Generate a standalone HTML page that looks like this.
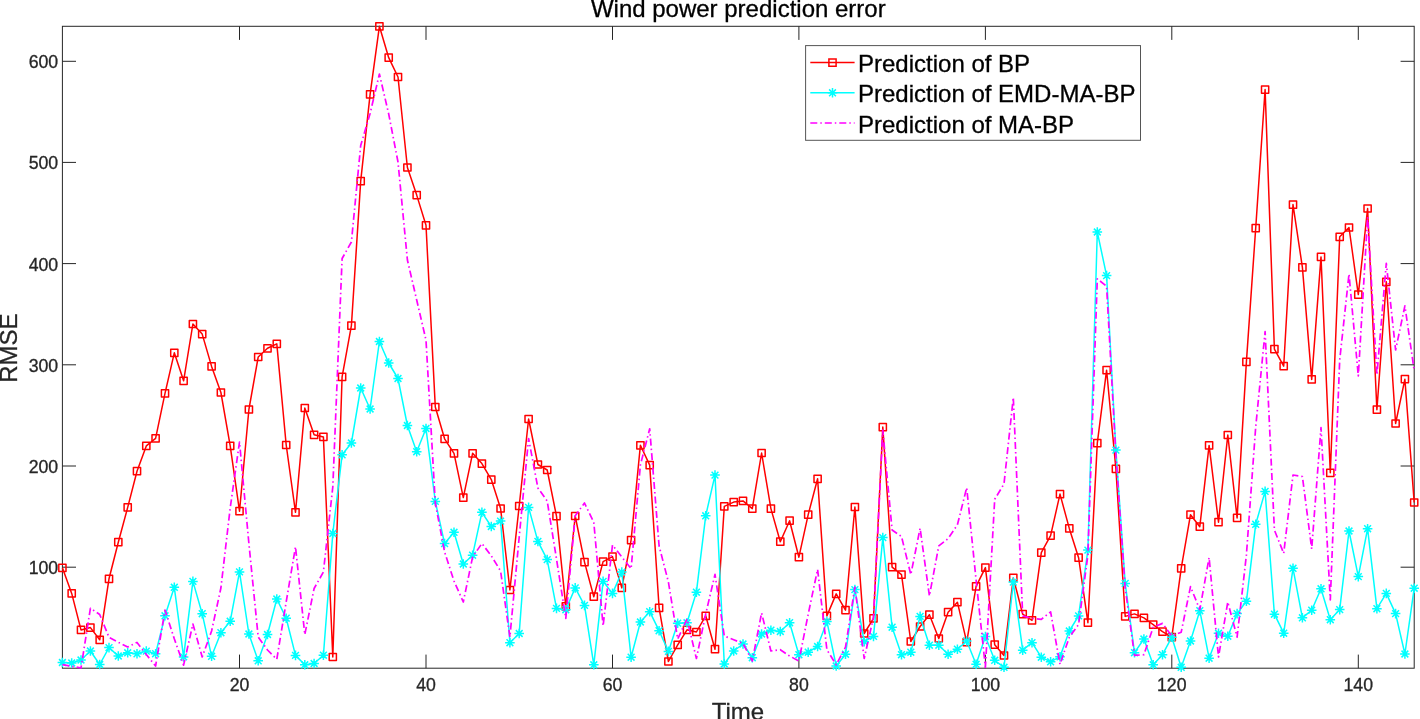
<!DOCTYPE html>
<html><head><meta charset="utf-8"><title>Wind power prediction error</title>
<style>
html,body{margin:0;padding:0;background:#fff;}
body{width:1420px;height:719px;overflow:hidden;}
svg{display:block;font-family:"Liberation Sans",Arial,Helvetica,sans-serif;}
</style></head><body>
<svg width="1420" height="719" viewBox="0 0 1420 719">
<rect width="1420" height="719" fill="#fff"/>
<rect x="62.4" y="26.3" width="1351.8" height="641.9" fill="none" stroke="#262626" stroke-width="1"/>
<path d="M239.5 668.2v-13.6M239.5 26.3v13.6M426.0 668.2v-13.6M426.0 26.3v13.6M612.5 668.2v-13.6M612.5 26.3v13.6M798.9 668.2v-13.6M798.9 26.3v13.6M985.4 668.2v-13.6M985.4 26.3v13.6M1171.8 668.2v-13.6M1171.8 26.3v13.6M1358.3 668.2v-13.6M1358.3 26.3v13.6M62.4 567.2h13.6M1414.2 567.2h-13.6M62.4 466.0h13.6M1414.2 466.0h-13.6M62.4 364.8h13.6M1414.2 364.8h-13.6M62.4 263.6h13.6M1414.2 263.6h-13.6M62.4 162.4h13.6M1414.2 162.4h-13.6M62.4 61.3h13.6M1414.2 61.3h-13.6" stroke="#262626" stroke-width="1" fill="none"/>
<g fill="none" stroke-linejoin="round">
<polyline points="62.4,567.8 71.7,593.4 81.0,629.9 90.4,627.6 99.7,639.8 109.0,578.8 118.3,542.2 127.7,507.4 137.0,471.2 146.3,445.9 155.6,438.3 165.0,393.3 174.3,352.8 183.6,380.8 192.9,324.0 202.2,334.1 211.6,366.4 220.9,392.5 230.2,445.8 239.5,511.2 248.9,409.5 258.2,357.0 267.5,348.3 276.8,343.9 286.2,445.0 295.5,512.3 304.8,408.0 314.1,434.8 323.4,436.9 332.8,657.0 342.1,376.8 351.4,325.7 360.7,181.2 370.1,94.4 379.4,26.3 388.7,57.7 398.0,77.0 407.4,167.5 416.7,195.1 426.0,225.3 435.3,407.0 444.6,438.8 454.0,453.3 463.3,497.6 472.6,453.3 481.9,463.6 491.3,479.6 500.6,508.5 509.9,590.0 519.2,506.0 528.6,419.0 537.9,464.5 547.2,470.0 556.5,516.2 565.8,606.4 575.2,516.0 584.5,562.1 593.8,596.7 603.1,561.6 612.5,556.6 621.8,587.9 631.1,540.1 640.4,445.3 649.7,465.1 659.1,607.8 668.4,661.5 677.7,644.8 687.0,629.8 696.4,632.0 705.7,615.8 715.0,649.2 724.3,506.4 733.7,502.1 743.0,500.9 752.3,508.6 761.6,453.0 770.9,508.6 780.3,541.7 789.6,520.7 798.9,557.2 808.2,514.6 817.6,478.8 826.9,615.9 836.2,593.9 845.5,610.2 854.9,507.0 864.2,633.5 873.5,618.4 882.8,427.1 892.1,567.1 901.5,574.6 910.8,641.5 920.1,626.5 929.4,614.7 938.8,638.5 948.1,612.2 957.4,602.2 966.7,642.2 976.1,586.4 985.4,567.6 994.7,644.7 1004.0,655.5 1013.3,577.9 1022.7,614.2 1032.0,620.4 1041.3,552.6 1050.6,535.6 1060.0,494.1 1069.3,528.4 1078.6,557.7 1087.9,622.7 1097.3,443.1 1106.6,370.2 1115.9,468.9 1125.2,616.4 1134.5,613.9 1143.9,617.9 1153.2,624.7 1162.5,631.7 1171.8,637.2 1181.2,568.4 1190.5,514.7 1199.8,526.7 1209.1,445.4 1218.5,522.2 1227.8,435.0 1237.1,517.9 1246.4,361.9 1255.7,228.2 1265.1,89.6 1274.4,349.2 1283.7,366.2 1293.0,204.6 1302.4,267.4 1311.7,379.4 1321.0,256.9 1330.3,472.8 1339.7,236.8 1349.0,227.5 1358.3,294.6 1367.6,208.5 1376.9,409.7 1386.3,281.8 1395.6,423.5 1404.9,379.2 1414.2,502.5" stroke="#f00" stroke-width="1.5"/>
<path d="M58.8 564.2h7.2v7.2h-7.2zM68.1 589.8h7.2v7.2h-7.2zM77.4 626.3h7.2v7.2h-7.2zM86.8 624.0h7.2v7.2h-7.2zM96.1 636.2h7.2v7.2h-7.2zM105.4 575.2h7.2v7.2h-7.2zM114.7 538.6h7.2v7.2h-7.2zM124.1 503.8h7.2v7.2h-7.2zM133.4 467.6h7.2v7.2h-7.2zM142.7 442.3h7.2v7.2h-7.2zM152.0 434.7h7.2v7.2h-7.2zM161.4 389.7h7.2v7.2h-7.2zM170.7 349.2h7.2v7.2h-7.2zM180.0 377.2h7.2v7.2h-7.2zM189.3 320.4h7.2v7.2h-7.2zM198.6 330.5h7.2v7.2h-7.2zM208.0 362.8h7.2v7.2h-7.2zM217.3 388.9h7.2v7.2h-7.2zM226.6 442.2h7.2v7.2h-7.2zM235.9 507.6h7.2v7.2h-7.2zM245.3 405.9h7.2v7.2h-7.2zM254.6 353.4h7.2v7.2h-7.2zM263.9 344.7h7.2v7.2h-7.2zM273.2 340.3h7.2v7.2h-7.2zM282.6 441.4h7.2v7.2h-7.2zM291.9 508.7h7.2v7.2h-7.2zM301.2 404.4h7.2v7.2h-7.2zM310.5 431.2h7.2v7.2h-7.2zM319.8 433.3h7.2v7.2h-7.2zM329.2 653.4h7.2v7.2h-7.2zM338.5 373.2h7.2v7.2h-7.2zM347.8 322.1h7.2v7.2h-7.2zM357.1 177.6h7.2v7.2h-7.2zM366.5 90.8h7.2v7.2h-7.2zM375.8 22.7h7.2v7.2h-7.2zM385.1 54.1h7.2v7.2h-7.2zM394.4 73.4h7.2v7.2h-7.2zM403.8 163.9h7.2v7.2h-7.2zM413.1 191.5h7.2v7.2h-7.2zM422.4 221.7h7.2v7.2h-7.2zM431.7 403.4h7.2v7.2h-7.2zM441.0 435.2h7.2v7.2h-7.2zM450.4 449.7h7.2v7.2h-7.2zM459.7 494.0h7.2v7.2h-7.2zM469.0 449.7h7.2v7.2h-7.2zM478.3 460.0h7.2v7.2h-7.2zM487.7 476.0h7.2v7.2h-7.2zM497.0 504.9h7.2v7.2h-7.2zM506.3 586.4h7.2v7.2h-7.2zM515.6 502.4h7.2v7.2h-7.2zM525.0 415.4h7.2v7.2h-7.2zM534.3 460.9h7.2v7.2h-7.2zM543.6 466.4h7.2v7.2h-7.2zM552.9 512.6h7.2v7.2h-7.2zM562.2 602.8h7.2v7.2h-7.2zM571.6 512.4h7.2v7.2h-7.2zM580.9 558.5h7.2v7.2h-7.2zM590.2 593.1h7.2v7.2h-7.2zM599.5 558.0h7.2v7.2h-7.2zM608.9 553.0h7.2v7.2h-7.2zM618.2 584.3h7.2v7.2h-7.2zM627.5 536.5h7.2v7.2h-7.2zM636.8 441.7h7.2v7.2h-7.2zM646.1 461.5h7.2v7.2h-7.2zM655.5 604.2h7.2v7.2h-7.2zM664.8 657.9h7.2v7.2h-7.2zM674.1 641.2h7.2v7.2h-7.2zM683.4 626.2h7.2v7.2h-7.2zM692.8 628.4h7.2v7.2h-7.2zM702.1 612.2h7.2v7.2h-7.2zM711.4 645.6h7.2v7.2h-7.2zM720.7 502.8h7.2v7.2h-7.2zM730.1 498.5h7.2v7.2h-7.2zM739.4 497.3h7.2v7.2h-7.2zM748.7 505.0h7.2v7.2h-7.2zM758.0 449.4h7.2v7.2h-7.2zM767.3 505.0h7.2v7.2h-7.2zM776.7 538.1h7.2v7.2h-7.2zM786.0 517.1h7.2v7.2h-7.2zM795.3 553.6h7.2v7.2h-7.2zM804.6 511.0h7.2v7.2h-7.2zM814.0 475.2h7.2v7.2h-7.2zM823.3 612.3h7.2v7.2h-7.2zM832.6 590.3h7.2v7.2h-7.2zM841.9 606.6h7.2v7.2h-7.2zM851.3 503.4h7.2v7.2h-7.2zM860.6 629.9h7.2v7.2h-7.2zM869.9 614.8h7.2v7.2h-7.2zM879.2 423.5h7.2v7.2h-7.2zM888.5 563.5h7.2v7.2h-7.2zM897.9 571.0h7.2v7.2h-7.2zM907.2 637.9h7.2v7.2h-7.2zM916.5 622.9h7.2v7.2h-7.2zM925.8 611.1h7.2v7.2h-7.2zM935.2 634.9h7.2v7.2h-7.2zM944.5 608.6h7.2v7.2h-7.2zM953.8 598.6h7.2v7.2h-7.2zM963.1 638.6h7.2v7.2h-7.2zM972.5 582.8h7.2v7.2h-7.2zM981.8 564.0h7.2v7.2h-7.2zM991.1 641.1h7.2v7.2h-7.2zM1000.4 651.9h7.2v7.2h-7.2zM1009.7 574.3h7.2v7.2h-7.2zM1019.1 610.6h7.2v7.2h-7.2zM1028.4 616.8h7.2v7.2h-7.2zM1037.7 549.0h7.2v7.2h-7.2zM1047.0 532.0h7.2v7.2h-7.2zM1056.4 490.5h7.2v7.2h-7.2zM1065.7 524.8h7.2v7.2h-7.2zM1075.0 554.1h7.2v7.2h-7.2zM1084.3 619.1h7.2v7.2h-7.2zM1093.7 439.5h7.2v7.2h-7.2zM1103.0 366.6h7.2v7.2h-7.2zM1112.3 465.3h7.2v7.2h-7.2zM1121.6 612.8h7.2v7.2h-7.2zM1130.9 610.3h7.2v7.2h-7.2zM1140.3 614.3h7.2v7.2h-7.2zM1149.6 621.1h7.2v7.2h-7.2zM1158.9 628.1h7.2v7.2h-7.2zM1168.2 633.6h7.2v7.2h-7.2zM1177.6 564.8h7.2v7.2h-7.2zM1186.9 511.1h7.2v7.2h-7.2zM1196.2 523.1h7.2v7.2h-7.2zM1205.5 441.8h7.2v7.2h-7.2zM1214.9 518.6h7.2v7.2h-7.2zM1224.2 431.4h7.2v7.2h-7.2zM1233.5 514.3h7.2v7.2h-7.2zM1242.8 358.3h7.2v7.2h-7.2zM1252.1 224.6h7.2v7.2h-7.2zM1261.5 86.0h7.2v7.2h-7.2zM1270.8 345.6h7.2v7.2h-7.2zM1280.1 362.6h7.2v7.2h-7.2zM1289.4 201.0h7.2v7.2h-7.2zM1298.8 263.8h7.2v7.2h-7.2zM1308.1 375.8h7.2v7.2h-7.2zM1317.4 253.3h7.2v7.2h-7.2zM1326.7 469.2h7.2v7.2h-7.2zM1336.1 233.2h7.2v7.2h-7.2zM1345.4 223.9h7.2v7.2h-7.2zM1354.7 291.0h7.2v7.2h-7.2zM1364.0 204.9h7.2v7.2h-7.2zM1373.3 406.1h7.2v7.2h-7.2zM1382.7 278.2h7.2v7.2h-7.2zM1392.0 419.9h7.2v7.2h-7.2zM1401.3 375.6h7.2v7.2h-7.2zM1410.6 498.9h7.2v7.2h-7.2z" stroke="#f00" stroke-width="1.5"/>
<polyline points="62.4,662.5 71.7,663.0 81.0,660.0 90.4,651.0 99.7,664.5 109.0,647.6 118.3,656.0 127.7,652.8 137.0,653.8 146.3,651.1 155.6,653.7 165.0,615.8 174.3,587.3 183.6,656.9 192.9,581.4 202.2,613.7 211.6,656.3 220.9,632.7 230.2,621.3 239.5,571.9 248.9,634.0 258.2,660.8 267.5,634.5 276.8,599.0 286.2,618.2 295.5,655.4 304.8,664.8 314.1,663.5 323.4,655.2 332.8,533.5 342.1,454.8 351.4,443.0 360.7,388.0 370.1,409.0 379.4,341.5 388.7,363.0 398.0,378.5 407.4,425.5 416.7,451.7 426.0,428.5 435.3,501.4 444.6,543.6 454.0,532.3 463.3,564.0 472.6,555.2 481.9,512.3 491.3,526.5 500.6,521.1 509.9,642.7 519.2,633.5 528.6,507.4 537.9,541.4 547.2,559.6 556.5,608.4 565.8,609.7 575.2,587.9 584.5,605.4 593.8,664.8 603.1,581.4 612.5,593.4 621.8,572.1 631.1,657.2 640.4,622.0 649.7,611.7 659.1,630.7 668.4,651.4 677.7,623.2 687.0,622.8 696.4,592.2 705.7,515.8 715.0,475.1 724.3,664.0 733.7,651.0 743.0,644.0 752.3,657.7 761.6,634.0 770.9,630.2 780.3,631.5 789.6,622.7 798.9,654.7 808.2,652.2 817.6,646.5 826.9,621.4 836.2,666.0 845.5,654.2 854.9,589.6 864.2,641.7 873.5,636.4 882.8,537.6 892.1,627.2 901.5,654.7 910.8,652.2 920.1,616.4 929.4,645.2 938.8,645.2 948.1,654.2 957.4,649.2 966.7,641.0 976.1,664.3 985.4,636.5 994.7,660.3 1004.0,667.3 1013.3,582.1 1022.7,650.2 1032.0,642.7 1041.3,657.2 1050.6,661.8 1060.0,656.7 1069.3,631.0 1078.6,615.9 1087.9,550.1 1097.3,232.0 1106.6,275.6 1115.9,450.1 1125.2,583.4 1134.5,652.7 1143.9,639.0 1153.2,664.8 1162.5,654.7 1171.8,637.2 1181.2,667.3 1190.5,641.0 1199.8,610.7 1209.1,658.2 1218.5,633.3 1227.8,636.2 1237.1,613.6 1246.4,601.3 1255.7,524.3 1265.1,491.4 1274.4,614.2 1283.7,633.2 1293.0,568.3 1302.4,617.8 1311.7,610.2 1321.0,588.8 1330.3,619.7 1339.7,609.6 1349.0,531.0 1358.3,576.6 1367.6,528.7 1376.9,608.7 1386.3,593.4 1395.6,613.6 1404.9,654.0 1414.2,588.2" stroke="#0ff" stroke-width="1.5"/>
<path d="M57.6 662.5h9.6M62.4 657.7v9.6M59.0 659.1l6.8 6.8M59.0 665.9l6.8 -6.8M66.9 663.0h9.6M71.7 658.2v9.6M68.3 659.6l6.8 6.8M68.3 666.4l6.8 -6.8M76.2 660.0h9.6M81.0 655.2v9.6M77.6 656.6l6.8 6.8M77.6 663.4l6.8 -6.8M85.6 651.0h9.6M90.4 646.2v9.6M87.0 647.6l6.8 6.8M87.0 654.4l6.8 -6.8M94.9 664.5h9.6M99.7 659.7v9.6M96.3 661.1l6.8 6.8M96.3 667.9l6.8 -6.8M104.2 647.6h9.6M109.0 642.8v9.6M105.6 644.2l6.8 6.8M105.6 651.0l6.8 -6.8M113.5 656.0h9.6M118.3 651.2v9.6M114.9 652.6l6.8 6.8M114.9 659.4l6.8 -6.8M122.9 652.8h9.6M127.7 648.0v9.6M124.3 649.4l6.8 6.8M124.3 656.2l6.8 -6.8M132.2 653.8h9.6M137.0 649.0v9.6M133.6 650.4l6.8 6.8M133.6 657.2l6.8 -6.8M141.5 651.1h9.6M146.3 646.3v9.6M142.9 647.7l6.8 6.8M142.9 654.5l6.8 -6.8M150.8 653.7h9.6M155.6 648.9v9.6M152.2 650.3l6.8 6.8M152.2 657.1l6.8 -6.8M160.2 615.8h9.6M165.0 611.0v9.6M161.6 612.4l6.8 6.8M161.6 619.2l6.8 -6.8M169.5 587.3h9.6M174.3 582.5v9.6M170.9 583.9l6.8 6.8M170.9 590.7l6.8 -6.8M178.8 656.9h9.6M183.6 652.1v9.6M180.2 653.5l6.8 6.8M180.2 660.3l6.8 -6.8M188.1 581.4h9.6M192.9 576.6v9.6M189.5 578.0l6.8 6.8M189.5 584.8l6.8 -6.8M197.4 613.7h9.6M202.2 608.9v9.6M198.8 610.3l6.8 6.8M198.8 617.1l6.8 -6.8M206.8 656.3h9.6M211.6 651.5v9.6M208.2 652.9l6.8 6.8M208.2 659.7l6.8 -6.8M216.1 632.7h9.6M220.9 627.9v9.6M217.5 629.3l6.8 6.8M217.5 636.1l6.8 -6.8M225.4 621.3h9.6M230.2 616.5v9.6M226.8 617.9l6.8 6.8M226.8 624.7l6.8 -6.8M234.7 571.9h9.6M239.5 567.1v9.6M236.1 568.5l6.8 6.8M236.1 575.3l6.8 -6.8M244.1 634.0h9.6M248.9 629.2v9.6M245.5 630.6l6.8 6.8M245.5 637.4l6.8 -6.8M253.4 660.8h9.6M258.2 656.0v9.6M254.8 657.4l6.8 6.8M254.8 664.2l6.8 -6.8M262.7 634.5h9.6M267.5 629.7v9.6M264.1 631.1l6.8 6.8M264.1 637.9l6.8 -6.8M272.0 599.0h9.6M276.8 594.2v9.6M273.4 595.6l6.8 6.8M273.4 602.4l6.8 -6.8M281.4 618.2h9.6M286.2 613.4v9.6M282.8 614.8l6.8 6.8M282.8 621.6l6.8 -6.8M290.7 655.4h9.6M295.5 650.6v9.6M292.1 652.0l6.8 6.8M292.1 658.8l6.8 -6.8M300.0 664.8h9.6M304.8 660.0v9.6M301.4 661.4l6.8 6.8M301.4 668.2l6.8 -6.8M309.3 663.5h9.6M314.1 658.7v9.6M310.7 660.1l6.8 6.8M310.7 666.9l6.8 -6.8M318.6 655.2h9.6M323.4 650.4v9.6M320.0 651.8l6.8 6.8M320.0 658.6l6.8 -6.8M328.0 533.5h9.6M332.8 528.7v9.6M329.4 530.1l6.8 6.8M329.4 536.9l6.8 -6.8M337.3 454.8h9.6M342.1 450.0v9.6M338.7 451.4l6.8 6.8M338.7 458.2l6.8 -6.8M346.6 443.0h9.6M351.4 438.2v9.6M348.0 439.6l6.8 6.8M348.0 446.4l6.8 -6.8M355.9 388.0h9.6M360.7 383.2v9.6M357.3 384.6l6.8 6.8M357.3 391.4l6.8 -6.8M365.3 409.0h9.6M370.1 404.2v9.6M366.7 405.6l6.8 6.8M366.7 412.4l6.8 -6.8M374.6 341.5h9.6M379.4 336.7v9.6M376.0 338.1l6.8 6.8M376.0 344.9l6.8 -6.8M383.9 363.0h9.6M388.7 358.2v9.6M385.3 359.6l6.8 6.8M385.3 366.4l6.8 -6.8M393.2 378.5h9.6M398.0 373.7v9.6M394.6 375.1l6.8 6.8M394.6 381.9l6.8 -6.8M402.6 425.5h9.6M407.4 420.7v9.6M404.0 422.1l6.8 6.8M404.0 428.9l6.8 -6.8M411.9 451.7h9.6M416.7 446.9v9.6M413.3 448.3l6.8 6.8M413.3 455.1l6.8 -6.8M421.2 428.5h9.6M426.0 423.7v9.6M422.6 425.1l6.8 6.8M422.6 431.9l6.8 -6.8M430.5 501.4h9.6M435.3 496.6v9.6M431.9 498.0l6.8 6.8M431.9 504.8l6.8 -6.8M439.8 543.6h9.6M444.6 538.8v9.6M441.2 540.2l6.8 6.8M441.2 547.0l6.8 -6.8M449.2 532.3h9.6M454.0 527.5v9.6M450.6 528.9l6.8 6.8M450.6 535.7l6.8 -6.8M458.5 564.0h9.6M463.3 559.2v9.6M459.9 560.6l6.8 6.8M459.9 567.4l6.8 -6.8M467.8 555.2h9.6M472.6 550.4v9.6M469.2 551.8l6.8 6.8M469.2 558.6l6.8 -6.8M477.1 512.3h9.6M481.9 507.5v9.6M478.5 508.9l6.8 6.8M478.5 515.7l6.8 -6.8M486.5 526.5h9.6M491.3 521.7v9.6M487.9 523.1l6.8 6.8M487.9 529.9l6.8 -6.8M495.8 521.1h9.6M500.6 516.3v9.6M497.2 517.7l6.8 6.8M497.2 524.5l6.8 -6.8M505.1 642.7h9.6M509.9 637.9v9.6M506.5 639.3l6.8 6.8M506.5 646.1l6.8 -6.8M514.4 633.5h9.6M519.2 628.7v9.6M515.8 630.1l6.8 6.8M515.8 636.9l6.8 -6.8M523.8 507.4h9.6M528.6 502.6v9.6M525.2 504.0l6.8 6.8M525.2 510.8l6.8 -6.8M533.1 541.4h9.6M537.9 536.6v9.6M534.5 538.0l6.8 6.8M534.5 544.8l6.8 -6.8M542.4 559.6h9.6M547.2 554.8v9.6M543.8 556.2l6.8 6.8M543.8 563.0l6.8 -6.8M551.7 608.4h9.6M556.5 603.6v9.6M553.1 605.0l6.8 6.8M553.1 611.8l6.8 -6.8M561.0 609.7h9.6M565.8 604.9v9.6M562.4 606.3l6.8 6.8M562.4 613.1l6.8 -6.8M570.4 587.9h9.6M575.2 583.1v9.6M571.8 584.5l6.8 6.8M571.8 591.3l6.8 -6.8M579.7 605.4h9.6M584.5 600.6v9.6M581.1 602.0l6.8 6.8M581.1 608.8l6.8 -6.8M589.0 664.8h9.6M593.8 660.0v9.6M590.4 661.4l6.8 6.8M590.4 668.2l6.8 -6.8M598.3 581.4h9.6M603.1 576.6v9.6M599.7 578.0l6.8 6.8M599.7 584.8l6.8 -6.8M607.7 593.4h9.6M612.5 588.6v9.6M609.1 590.0l6.8 6.8M609.1 596.8l6.8 -6.8M617.0 572.1h9.6M621.8 567.3v9.6M618.4 568.7l6.8 6.8M618.4 575.5l6.8 -6.8M626.3 657.2h9.6M631.1 652.4v9.6M627.7 653.8l6.8 6.8M627.7 660.6l6.8 -6.8M635.6 622.0h9.6M640.4 617.2v9.6M637.0 618.6l6.8 6.8M637.0 625.4l6.8 -6.8M644.9 611.7h9.6M649.7 606.9v9.6M646.3 608.3l6.8 6.8M646.3 615.1l6.8 -6.8M654.3 630.7h9.6M659.1 625.9v9.6M655.7 627.3l6.8 6.8M655.7 634.1l6.8 -6.8M663.6 651.4h9.6M668.4 646.6v9.6M665.0 648.0l6.8 6.8M665.0 654.8l6.8 -6.8M672.9 623.2h9.6M677.7 618.4v9.6M674.3 619.8l6.8 6.8M674.3 626.6l6.8 -6.8M682.2 622.8h9.6M687.0 618.0v9.6M683.6 619.4l6.8 6.8M683.6 626.2l6.8 -6.8M691.6 592.2h9.6M696.4 587.4v9.6M693.0 588.8l6.8 6.8M693.0 595.6l6.8 -6.8M700.9 515.8h9.6M705.7 511.0v9.6M702.3 512.4l6.8 6.8M702.3 519.2l6.8 -6.8M710.2 475.1h9.6M715.0 470.3v9.6M711.6 471.7l6.8 6.8M711.6 478.5l6.8 -6.8M719.5 664.0h9.6M724.3 659.2v9.6M720.9 660.6l6.8 6.8M720.9 667.4l6.8 -6.8M728.9 651.0h9.6M733.7 646.2v9.6M730.3 647.6l6.8 6.8M730.3 654.4l6.8 -6.8M738.2 644.0h9.6M743.0 639.2v9.6M739.6 640.6l6.8 6.8M739.6 647.4l6.8 -6.8M747.5 657.7h9.6M752.3 652.9v9.6M748.9 654.3l6.8 6.8M748.9 661.1l6.8 -6.8M756.8 634.0h9.6M761.6 629.2v9.6M758.2 630.6l6.8 6.8M758.2 637.4l6.8 -6.8M766.1 630.2h9.6M770.9 625.4v9.6M767.5 626.8l6.8 6.8M767.5 633.6l6.8 -6.8M775.5 631.5h9.6M780.3 626.7v9.6M776.9 628.1l6.8 6.8M776.9 634.9l6.8 -6.8M784.8 622.7h9.6M789.6 617.9v9.6M786.2 619.3l6.8 6.8M786.2 626.1l6.8 -6.8M794.1 654.7h9.6M798.9 649.9v9.6M795.5 651.3l6.8 6.8M795.5 658.1l6.8 -6.8M803.4 652.2h9.6M808.2 647.4v9.6M804.8 648.8l6.8 6.8M804.8 655.6l6.8 -6.8M812.8 646.5h9.6M817.6 641.7v9.6M814.2 643.1l6.8 6.8M814.2 649.9l6.8 -6.8M822.1 621.4h9.6M826.9 616.6v9.6M823.5 618.0l6.8 6.8M823.5 624.8l6.8 -6.8M831.4 666.0h9.6M836.2 661.2v9.6M832.8 662.6l6.8 6.8M832.8 669.4l6.8 -6.8M840.7 654.2h9.6M845.5 649.4v9.6M842.1 650.8l6.8 6.8M842.1 657.6l6.8 -6.8M850.1 589.6h9.6M854.9 584.8v9.6M851.5 586.2l6.8 6.8M851.5 593.0l6.8 -6.8M859.4 641.7h9.6M864.2 636.9v9.6M860.8 638.3l6.8 6.8M860.8 645.1l6.8 -6.8M868.7 636.4h9.6M873.5 631.6v9.6M870.1 633.0l6.8 6.8M870.1 639.8l6.8 -6.8M878.0 537.6h9.6M882.8 532.8v9.6M879.4 534.2l6.8 6.8M879.4 541.0l6.8 -6.8M887.3 627.2h9.6M892.1 622.4v9.6M888.7 623.8l6.8 6.8M888.7 630.6l6.8 -6.8M896.7 654.7h9.6M901.5 649.9v9.6M898.1 651.3l6.8 6.8M898.1 658.1l6.8 -6.8M906.0 652.2h9.6M910.8 647.4v9.6M907.4 648.8l6.8 6.8M907.4 655.6l6.8 -6.8M915.3 616.4h9.6M920.1 611.6v9.6M916.7 613.0l6.8 6.8M916.7 619.8l6.8 -6.8M924.6 645.2h9.6M929.4 640.4v9.6M926.0 641.8l6.8 6.8M926.0 648.6l6.8 -6.8M934.0 645.2h9.6M938.8 640.4v9.6M935.4 641.8l6.8 6.8M935.4 648.6l6.8 -6.8M943.3 654.2h9.6M948.1 649.4v9.6M944.7 650.8l6.8 6.8M944.7 657.6l6.8 -6.8M952.6 649.2h9.6M957.4 644.4v9.6M954.0 645.8l6.8 6.8M954.0 652.6l6.8 -6.8M961.9 641.0h9.6M966.7 636.2v9.6M963.3 637.6l6.8 6.8M963.3 644.4l6.8 -6.8M971.3 664.3h9.6M976.1 659.5v9.6M972.7 660.9l6.8 6.8M972.7 667.7l6.8 -6.8M980.6 636.5h9.6M985.4 631.7v9.6M982.0 633.1l6.8 6.8M982.0 639.9l6.8 -6.8M989.9 660.3h9.6M994.7 655.5v9.6M991.3 656.9l6.8 6.8M991.3 663.7l6.8 -6.8M999.2 667.3h9.6M1004.0 662.5v9.6M1000.6 663.9l6.8 6.8M1000.6 670.7l6.8 -6.8M1008.5 582.1h9.6M1013.3 577.3v9.6M1009.9 578.7l6.8 6.8M1009.9 585.5l6.8 -6.8M1017.9 650.2h9.6M1022.7 645.4v9.6M1019.3 646.8l6.8 6.8M1019.3 653.6l6.8 -6.8M1027.2 642.7h9.6M1032.0 637.9v9.6M1028.6 639.3l6.8 6.8M1028.6 646.1l6.8 -6.8M1036.5 657.2h9.6M1041.3 652.4v9.6M1037.9 653.8l6.8 6.8M1037.9 660.6l6.8 -6.8M1045.8 661.8h9.6M1050.6 657.0v9.6M1047.2 658.4l6.8 6.8M1047.2 665.2l6.8 -6.8M1055.2 656.7h9.6M1060.0 651.9v9.6M1056.6 653.3l6.8 6.8M1056.6 660.1l6.8 -6.8M1064.5 631.0h9.6M1069.3 626.2v9.6M1065.9 627.6l6.8 6.8M1065.9 634.4l6.8 -6.8M1073.8 615.9h9.6M1078.6 611.1v9.6M1075.2 612.5l6.8 6.8M1075.2 619.3l6.8 -6.8M1083.1 550.1h9.6M1087.9 545.3v9.6M1084.5 546.7l6.8 6.8M1084.5 553.5l6.8 -6.8M1092.5 232.0h9.6M1097.3 227.2v9.6M1093.9 228.6l6.8 6.8M1093.9 235.4l6.8 -6.8M1101.8 275.6h9.6M1106.6 270.8v9.6M1103.2 272.2l6.8 6.8M1103.2 279.0l6.8 -6.8M1111.1 450.1h9.6M1115.9 445.3v9.6M1112.5 446.7l6.8 6.8M1112.5 453.5l6.8 -6.8M1120.4 583.4h9.6M1125.2 578.6v9.6M1121.8 580.0l6.8 6.8M1121.8 586.8l6.8 -6.8M1129.7 652.7h9.6M1134.5 647.9v9.6M1131.1 649.3l6.8 6.8M1131.1 656.1l6.8 -6.8M1139.1 639.0h9.6M1143.9 634.2v9.6M1140.5 635.6l6.8 6.8M1140.5 642.4l6.8 -6.8M1148.4 664.8h9.6M1153.2 660.0v9.6M1149.8 661.4l6.8 6.8M1149.8 668.2l6.8 -6.8M1157.7 654.7h9.6M1162.5 649.9v9.6M1159.1 651.3l6.8 6.8M1159.1 658.1l6.8 -6.8M1167.0 637.2h9.6M1171.8 632.4v9.6M1168.4 633.8l6.8 6.8M1168.4 640.6l6.8 -6.8M1176.4 667.3h9.6M1181.2 662.5v9.6M1177.8 663.9l6.8 6.8M1177.8 670.7l6.8 -6.8M1185.7 641.0h9.6M1190.5 636.2v9.6M1187.1 637.6l6.8 6.8M1187.1 644.4l6.8 -6.8M1195.0 610.7h9.6M1199.8 605.9v9.6M1196.4 607.3l6.8 6.8M1196.4 614.1l6.8 -6.8M1204.3 658.2h9.6M1209.1 653.4v9.6M1205.7 654.8l6.8 6.8M1205.7 661.6l6.8 -6.8M1213.7 633.3h9.6M1218.5 628.5v9.6M1215.1 629.9l6.8 6.8M1215.1 636.7l6.8 -6.8M1223.0 636.2h9.6M1227.8 631.4v9.6M1224.4 632.8l6.8 6.8M1224.4 639.6l6.8 -6.8M1232.3 613.6h9.6M1237.1 608.8v9.6M1233.7 610.2l6.8 6.8M1233.7 617.0l6.8 -6.8M1241.6 601.3h9.6M1246.4 596.5v9.6M1243.0 597.9l6.8 6.8M1243.0 604.7l6.8 -6.8M1250.9 524.3h9.6M1255.7 519.5v9.6M1252.3 520.9l6.8 6.8M1252.3 527.7l6.8 -6.8M1260.3 491.4h9.6M1265.1 486.6v9.6M1261.7 488.0l6.8 6.8M1261.7 494.8l6.8 -6.8M1269.6 614.2h9.6M1274.4 609.4v9.6M1271.0 610.8l6.8 6.8M1271.0 617.6l6.8 -6.8M1278.9 633.2h9.6M1283.7 628.4v9.6M1280.3 629.8l6.8 6.8M1280.3 636.6l6.8 -6.8M1288.2 568.3h9.6M1293.0 563.5v9.6M1289.6 564.9l6.8 6.8M1289.6 571.7l6.8 -6.8M1297.6 617.8h9.6M1302.4 613.0v9.6M1299.0 614.4l6.8 6.8M1299.0 621.2l6.8 -6.8M1306.9 610.2h9.6M1311.7 605.4v9.6M1308.3 606.8l6.8 6.8M1308.3 613.6l6.8 -6.8M1316.2 588.8h9.6M1321.0 584.0v9.6M1317.6 585.4l6.8 6.8M1317.6 592.2l6.8 -6.8M1325.5 619.7h9.6M1330.3 614.9v9.6M1326.9 616.3l6.8 6.8M1326.9 623.1l6.8 -6.8M1334.9 609.6h9.6M1339.7 604.8v9.6M1336.3 606.2l6.8 6.8M1336.3 613.0l6.8 -6.8M1344.2 531.0h9.6M1349.0 526.2v9.6M1345.6 527.6l6.8 6.8M1345.6 534.4l6.8 -6.8M1353.5 576.6h9.6M1358.3 571.8v9.6M1354.9 573.2l6.8 6.8M1354.9 580.0l6.8 -6.8M1362.8 528.7h9.6M1367.6 523.9v9.6M1364.2 525.3l6.8 6.8M1364.2 532.1l6.8 -6.8M1372.1 608.7h9.6M1376.9 603.9v9.6M1373.5 605.3l6.8 6.8M1373.5 612.1l6.8 -6.8M1381.5 593.4h9.6M1386.3 588.6v9.6M1382.9 590.0l6.8 6.8M1382.9 596.8l6.8 -6.8M1390.8 613.6h9.6M1395.6 608.8v9.6M1392.2 610.2l6.8 6.8M1392.2 617.0l6.8 -6.8M1400.1 654.0h9.6M1404.9 649.2v9.6M1401.5 650.6l6.8 6.8M1401.5 657.4l6.8 -6.8M1409.4 588.2h9.6M1414.2 583.4v9.6M1410.8 584.8l6.8 6.8M1410.8 591.6l6.8 -6.8" stroke="#0ff" stroke-width="1.5"/>
<polyline points="62.4,664.7 71.7,666.3 81.0,668.0 90.4,608.3 99.7,614.5 109.0,637.3 118.3,642.3 127.7,647.0 137.0,642.4 146.3,654.5 155.6,666.0 165.0,610.0 174.3,638.8 183.6,665.1 192.9,624.0 202.2,657.0 211.6,631.0 220.9,588.0 230.2,508.0 239.5,442.0 248.9,543.5 258.2,637.0 267.5,650.0 276.8,659.3 286.2,601.9 295.5,546.8 304.8,634.6 314.1,588.5 323.4,572.0 332.8,487.0 342.1,258.5 351.4,242.0 360.7,145.5 370.1,113.5 379.4,74.0 388.7,114.0 398.0,162.0 407.4,260.0 416.7,300.0 426.0,340.0 435.3,503.0 444.6,552.0 454.0,581.0 463.3,602.0 472.6,557.0 481.9,543.5 491.3,555.8 500.6,571.0 509.9,637.0 519.2,537.0 528.6,438.5 537.9,488.0 547.2,501.0 556.5,559.0 565.8,618.4 575.2,515.8 584.5,503.0 593.8,522.3 603.1,626.0 612.5,545.0 621.8,557.0 631.1,568.6 640.4,465.0 649.7,428.8 659.1,546.0 668.4,582.0 677.7,639.0 687.0,619.0 696.4,658.5 705.7,614.0 715.0,574.4 724.3,636.0 733.7,639.7 743.0,643.5 752.3,661.0 761.6,612.9 770.9,651.0 780.3,649.7 789.6,656.0 798.9,661.0 808.2,614.2 817.6,569.4 826.9,649.7 836.2,664.8 845.5,647.2 854.9,587.1 864.2,658.5 873.5,617.2 882.8,430.1 892.1,530.0 901.5,536.5 910.8,574.6 920.1,528.3 929.4,595.9 938.8,545.8 948.1,538.6 957.4,524.8 966.7,487.7 976.1,580.0 985.4,667.3 994.7,499.3 1004.0,483.9 1013.3,397.5 1022.7,615.9 1032.0,618.4 1041.3,619.3 1050.6,611.9 1060.0,664.3 1069.3,637.2 1078.6,624.5 1087.9,555.0 1097.3,278.8 1106.6,286.3 1115.9,455.0 1125.2,588.0 1134.5,655.4 1143.9,654.7 1153.2,627.2 1162.5,623.4 1171.8,636.0 1181.2,632.2 1190.5,586.6 1199.8,609.7 1209.1,557.6 1218.5,657.0 1227.8,602.0 1237.1,637.1 1246.4,555.0 1255.7,427.0 1265.1,331.5 1274.4,530.0 1283.7,553.4 1293.0,475.0 1302.4,476.5 1311.7,548.9 1321.0,427.6 1330.3,600.0 1339.7,360.0 1349.0,274.0 1358.3,376.0 1367.6,217.0 1376.9,375.0 1386.3,263.3 1395.6,350.0 1404.9,305.9 1414.2,370.5" stroke="#f0f" stroke-width="1.7" stroke-dasharray="7 3 1.5 3"/>
</g>
<g font-size="17.7" fill="#262626" stroke="#262626" stroke-width="0.3"><text x="239.5" y="690.9" text-anchor="middle">20</text><text x="426.0" y="690.9" text-anchor="middle">40</text><text x="612.5" y="690.9" text-anchor="middle">60</text><text x="798.9" y="690.9" text-anchor="middle">80</text><text x="985.4" y="690.9" text-anchor="middle">100</text><text x="1171.8" y="690.9" text-anchor="middle">120</text><text x="1358.3" y="690.9" text-anchor="middle">140</text><text x="58.2" y="574.1" text-anchor="end">100</text><text x="58.2" y="472.9" text-anchor="end">200</text><text x="58.2" y="371.7" text-anchor="end">300</text><text x="58.2" y="270.5" text-anchor="end">400</text><text x="58.2" y="169.3" text-anchor="end">500</text><text x="58.2" y="68.2" text-anchor="end">600</text></g>
<text x="738.3" y="17" font-size="24" text-anchor="middle" fill="#000" stroke="#000" stroke-width="0.3">Wind power prediction error</text>
<text x="737.9" y="719.7" font-size="24" text-anchor="middle" fill="#262626" stroke="#262626" stroke-width="0.3">Time</text>
<text transform="translate(16.8,348.1) rotate(-90)" font-size="24" text-anchor="middle" fill="#262626" stroke="#262626" stroke-width="0.3">RMSE</text>

<rect x="805.6" y="45.6" width="334.9" height="94.7" fill="#fff" stroke="#555" stroke-width="1"/>
<path d="M810.3 62.6H854.6" stroke="#f00" stroke-width="1.5"/>
<path d="M828.9 59.0h7.2v7.2h-7.2z" fill="none" stroke="#f00" stroke-width="1.5"/>
<path d="M810.3 92.8H854.6" stroke="#0ff" stroke-width="1.5"/>
<path d="M827.7 92.8h9.6M832.5 88.0v9.6M829.1 89.4l6.8 6.8M829.1 96.2l6.8 -6.8" stroke="#0ff" stroke-width="1.5"/>
<path d="M810.3 123.0H854.6" stroke="#f0f" stroke-width="1.7" stroke-dasharray="7 3 1.5 3"/>
<g font-size="24" fill="#000" stroke="#000" stroke-width="0.3">
<text x="858" y="71.8">Prediction of BP</text>
<text x="858" y="102.2">Prediction of EMD-MA-BP</text>
<text x="858" y="132.9">Prediction of MA-BP</text>
</g>

</svg>
</body></html>
